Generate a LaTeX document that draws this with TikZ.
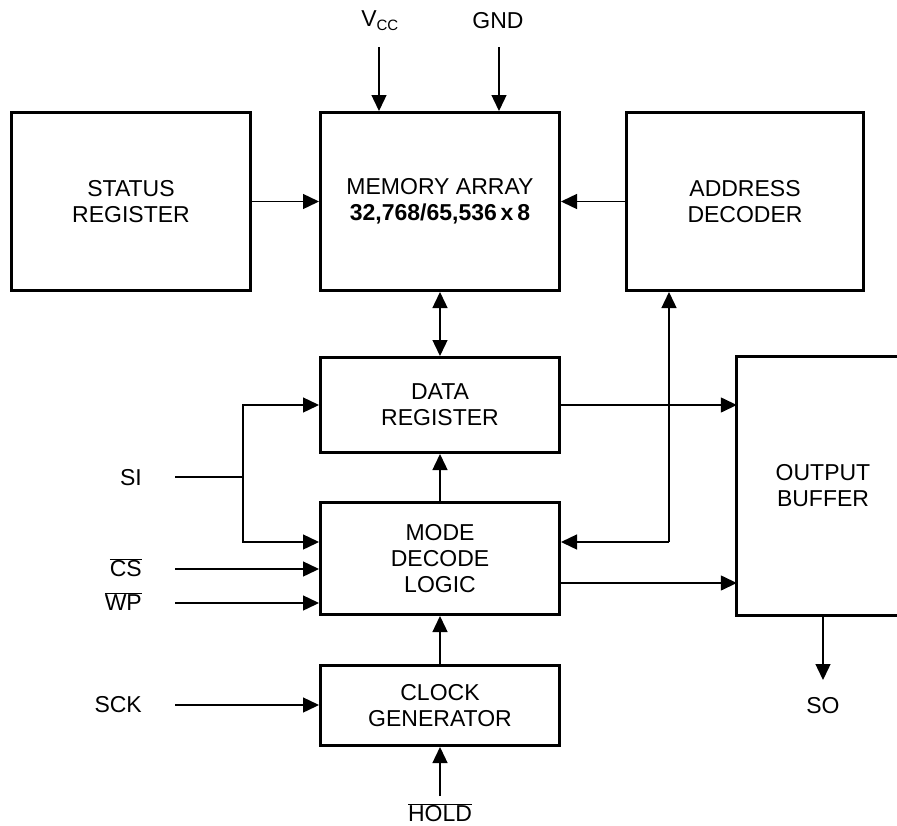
\documentclass[tikz,border=0pt]{standalone}
\usepackage{fontspec}
\setmainfont{Liberation Sans}
\usetikzlibrary{arrows.meta}
\begin{document}
\begin{tikzpicture}[x=1pt,y=-1pt,
  blk/.style={draw, line width=3pt, rectangle, inner sep=0pt, align=center,
              font=\fontsize{23}{26}\selectfont},
  lbl/.style={inner sep=0pt, font=\fontsize{23}{26}\selectfont},
  wire/.style={line width=1.4pt},
  arr/.style={wire, -{Triangle[length=16pt,width=15pt]}},
  darr/.style={wire, {Triangle[length=16pt,width=15pt]}-{Triangle[length=16pt,width=15pt]}}]
\useasboundingbox (0,0) rectangle (897,825);

% blocks
\node[blk, minimum width=239pt, minimum height=178pt] (status) at (131,201.5) {STATUS\\REGISTER};
\node[blk, minimum width=239pt, minimum height=178pt] (mem) at (440,201.5)
  {MEMORY ARRAY\\\textbf{32,768/65,536\,x\,8}};
\node[blk, minimum width=237pt, minimum height=178pt] (addr) at (745,201.5) {ADDRESS\\DECODER};
\node[blk, minimum width=239pt, minimum height=95pt] (data) at (440,405) {DATA\\REGISTER};
\node[blk, minimum width=239pt, minimum height=112pt] (mode) at (440,558.5) {MODE\\DECODE\\LOGIC};
\node[blk, minimum width=239pt, minimum height=80pt] (clk) at (440,705.5) {CLOCK\\GENERATOR};

% output buffer, open on the right
\node[lbl, align=center, minimum width=172pt, minimum height=258pt] (outbuf) at (823,486) {OUTPUT\\BUFFER};
\draw[line width=3pt] ([xshift=160pt]outbuf.north west) -- (outbuf.north west)
  -- (outbuf.south west) -- ([xshift=160pt]outbuf.south west);

% pin labels
\node[lbl] (vcc) at (380,21) {V\textsubscript{\fontsize{15}{15}\selectfont CC}};
\node[lbl] (gnd) at (498,21) {GND};
\node[lbl, anchor=east] (si) at (142,478) {SI};
\node[lbl, anchor=east] (cs) at (142,568) {$\overline{\mbox{CS}}$};
\node[lbl, anchor=east] (wp) at (142,602) {$\overline{\mbox{WP}}$};
\node[lbl, anchor=east] (sck) at (142,705) {SCK};
\node[lbl] (hold) at (440,813) {$\overline{\mbox{HOLD}}$};
\node[lbl] (so) at (823,706) {SO};

\coordinate (vccin) at (379,47);
\coordinate (gndin) at (499,47);
\coordinate (siin) at (175,477);
\coordinate (sisplit) at (243,477);
\coordinate (csin) at (175,569);
\coordinate (wpin) at (175,603);
\coordinate (sckin) at (175,705);
\coordinate (holdin) at (440,796);
\coordinate (soout) at (823,680);
\coordinate (abus) at (669,542);

% power
\draw[arr] (vccin) -- (vccin |- mem.north);
\draw[arr] (gndin) -- (gndin |- mem.north);

% core connections
\draw[arr] (status.east) -- (mem.west);
\draw[arr] (addr.west) -- (mem.east);
\draw[darr] (mem.south) -- (data.north);
\draw[arr] (data.east) -- (data.east -| outbuf.west);
\draw[arr] (mode.north) -- (data.south);
\draw[arr] (clk.north) -- (mode.south);
\draw[arr] (mode.east |- 0,583) -- (outbuf.west |- 0,583);
\draw[arr] (abus) -- (abus |- addr.south);
\draw[arr] (abus) -- (abus -| mode.east);

% serial inputs
\draw[wire] (siin) -- (sisplit);
\draw[arr] (sisplit) |- (data.west);
\draw[arr] (sisplit) |- (mode.west |- abus);
\draw[arr] (csin) -- (csin -| mode.west);
\draw[arr] (wpin) -- (wpin -| mode.west);
\draw[arr] (sckin) -- (sckin -| clk.west);
\draw[arr] (holdin) -- (clk.south);
\draw[arr] (outbuf.south west -| soout) -- (soout);
\end{tikzpicture}
\end{document}
